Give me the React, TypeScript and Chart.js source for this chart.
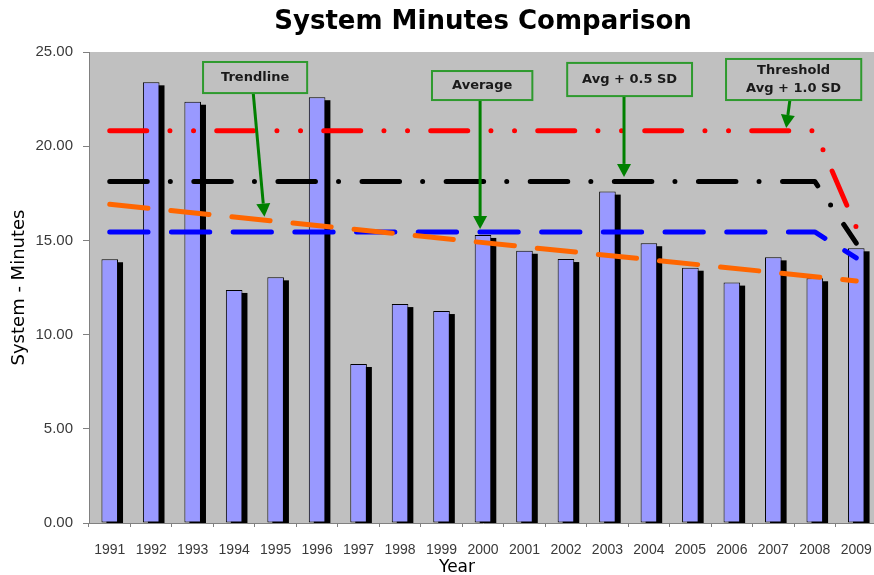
import React, { useEffect, useRef } from 'react';
import { Chart, registerables } from 'chart.js';

Chart.register(...registerables);

// ---------- data ----------
const years = ['1991', '1992', '1993', '1994', '1995', '1996', '1997', '1998', '1999', '2000',
  '2001', '2002', '2003', '2004', '2005', '2006', '2007', '2008', '2009'];

const systemMinutes = [14.0, 23.39, 22.36, 12.37, 13.04, 22.6, 8.44, 11.62, 11.25, 15.29,
  14.45, 14.01, 17.59, 14.85, 13.55, 12.76, 14.1, 12.99, 14.58];

const averageLine = [15.45, 15.45, 15.45, 15.45, 15.45, 15.45, 15.45, 15.45, 15.45, 15.45,
  15.45, 15.45, 15.45, 15.45, 15.45, 15.45, 15.45, 15.45, 14.07];

const avgHalfSdLine = [18.13, 18.13, 18.13, 18.13, 18.13, 18.13, 18.13, 18.13, 18.13, 18.13,
  18.13, 18.13, 18.13, 18.13, 18.13, 18.13, 18.13, 18.13, 14.85];

const thresholdLine = [20.82, 20.82, 20.82, 20.82, 20.82, 20.82, 20.82, 20.82, 20.82, 20.82,
  20.82, 20.82, 20.82, 20.82, 20.82, 20.82, 20.82, 20.82, 15.7];

// trendline: only its two end points are known, the line spans the gap
const trendLine = [16.92, null, null, null, null, null, null, null, null, null,
  null, null, null, null, null, null, null, null, 12.85];

const yTickValues = [0, 5, 10, 15, 20, 25];

// callouts: box extents in (category index, value) units, arrow from box to target
const callouts = [
  { lines: ['Trendline'], left: 2.25, right: 4.76, top: 24.47, bottom: 22.82, from: [3.46, 22.82], to: [3.73, 16.26] },
  { lines: ['Average'], left: 7.77, right: 10.19, top: 23.99, bottom: 22.45, from: [8.93, 22.45], to: [8.93, 15.6] },
  { lines: ['Avg + 0.5 SD'], left: 11.03, right: 14.04, top: 24.42, bottom: 22.66, from: [12.4, 22.66], to: [12.4, 18.37] },
  { lines: ['Threshold', 'Avg + 1.0 SD'], left: 14.86, right: 18.12, top: 24.63, bottom: 22.45, from: [16.4, 22.45], to: [16.31, 20.97] },
];

// ---------- plugins ----------
const plotBackground = {
  id: 'plotBackground',
  beforeDraw(chart: any) {
    const { ctx, chartArea: a, width, height } = chart;
    ctx.save();
    ctx.fillStyle = '#ffffff';
    ctx.fillRect(0, 0, width, height);
    ctx.fillStyle = '#c0c0c0';
    ctx.fillRect(a.left, a.top, a.right - a.left, a.bottom - a.top);
    ctx.restore();
  },
};

const barShadow = {
  id: 'barShadow',
  beforeDatasetDraw(chart: any, args: any) {
    const ds = chart.data.datasets[args.index];
    if (ds.type !== 'bar') return;
    const { ctx, chartArea: a } = chart;
    ctx.save();
    ctx.beginPath();
    ctx.rect(a.left, a.top, a.right - a.left, a.bottom - a.top);
    ctx.clip();
    ctx.fillStyle = '#000000';
    args.meta.data.forEach((bar: any) => {
      const { x, y, base, width } = bar.getProps(['x', 'y', 'base', 'width'], true);
      ctx.fillRect(x - width / 2 + 5, y + 3, width, base - y);
    });
    ctx.restore();
  },
};

const calloutPlugin = {
  id: 'callouts',
  afterDatasetsDraw(chart: any) {
    const { ctx } = chart;
    const xs = chart.scales.x;
    const ys = chart.scales.y;
    ctx.save();
    callouts.forEach((c) => {
      // arrow
      const x1 = xs.getPixelForValue(c.from[0]);
      const y1 = ys.getPixelForValue(c.from[1]);
      const x2 = xs.getPixelForValue(c.to[0]);
      const y2 = ys.getPixelForValue(c.to[1]);
      const ang = Math.atan2(y2 - y1, x2 - x1);
      const headLen = 13;
      const headHalf = 7;
      const bx = x2 - headLen * Math.cos(ang);
      const by = y2 - headLen * Math.sin(ang);
      ctx.strokeStyle = '#008000';
      ctx.lineWidth = 3;
      ctx.lineCap = 'butt';
      ctx.beginPath();
      ctx.moveTo(x1, y1);
      ctx.lineTo(bx, by);
      ctx.stroke();
      ctx.fillStyle = '#008000';
      ctx.beginPath();
      ctx.moveTo(x2, y2);
      ctx.lineTo(bx + headHalf * Math.sin(ang), by - headHalf * Math.cos(ang));
      ctx.lineTo(bx - headHalf * Math.sin(ang), by + headHalf * Math.cos(ang));
      ctx.closePath();
      ctx.fill();
      // box
      const l = xs.getPixelForValue(c.left);
      const r = xs.getPixelForValue(c.right);
      const t = ys.getPixelForValue(c.top);
      const b = ys.getPixelForValue(c.bottom);
      ctx.fillStyle = '#c0c0c0';
      ctx.fillRect(l, t, r - l, b - t);
      ctx.strokeStyle = '#2e9a2e';
      ctx.lineWidth = 2;
      ctx.strokeRect(l, t, r - l, b - t);
      ctx.fillStyle = '#1a1a1a';
      ctx.font = 'bold 13px "DejaVu Sans"';
      ctx.textAlign = 'center';
      ctx.textBaseline = 'middle';
      const cx = (l + r) / 2;
      const cy = (t + b) / 2;
      const lh = 17.6;
      c.lines.forEach((txt, i) => {
        ctx.fillText(txt, cx, cy + (i - (c.lines.length - 1) / 2) * lh);
      });
    });
    // x axis title
    const a = chart.chartArea;
    ctx.fillStyle = '#000000';
    ctx.font = '17px "DejaVu Sans"';
    ctx.textAlign = 'center';
    ctx.textBaseline = 'middle';
    ctx.fillText('Year', a.left + (a.right - a.left) * 0.467, 568);
    ctx.restore();
  },
};

export default function App() {
  const canvasRef = useRef<HTMLCanvasElement | null>(null);

  useEffect(() => {
    if (!canvasRef.current) return;
    const lineBase = {
      type: 'line' as const,
      borderWidth: 5,
      borderCapStyle: 'round' as const,
      borderJoinStyle: 'round' as const,
      pointRadius: 0,
      pointHoverRadius: 0,
      fill: false,
      tension: 0,
    };
    const chart = new Chart(canvasRef.current, {
      type: 'bar',
      data: {
        labels: years,
        datasets: [
          { ...lineBase, label: 'Trendline', data: trendLine, borderColor: '#ff6600', borderDash: [38.4, 23], spanGaps: true },
          { ...lineBase, label: 'Threshold Avg + 1.0 SD', data: thresholdLine, borderColor: '#ff0000', borderDash: [37, 23.2, 0, 23.6, 0, 23.2] },
          { ...lineBase, label: 'Avg + 0.5 SD', data: avgHalfSdLine, borderColor: '#000000', borderDash: [37.5, 23.1, 0, 23.5] },
          { ...lineBase, label: 'Average', data: averageLine, borderColor: '#0000ff', borderDash: [38.3, 23.4] },
          {
            type: 'bar' as const,
            label: 'System Minutes',
            data: systemMinutes,
            backgroundColor: '#9999ff',
            borderColor: '#000000',
            borderWidth: 1,
            borderSkipped: false,
            barPercentage: 0.4,
            categoryPercentage: 1,
            clip: 0,
          } as any,
        ],
      },
      options: {
        responsive: false,
        animation: false,
        devicePixelRatio: 1,
        layout: { padding: 0 },
        plugins: {
          legend: { display: false },
          tooltip: { enabled: false },
          title: {
            display: true,
            text: 'System Minutes Comparison',
            fullSize: false,
            color: '#000000',
            font: { family: '"DejaVu Sans"', size: 26, weight: 'bold', lineHeight: 1.2 },
            padding: { top: 6.4, bottom: 14.4 },
          },
        },
        scales: {
          x: {
            offset: true,
            afterFit: (s: any) => { s.height = 57; },
            grid: { drawOnChartArea: false, offset: true, tickLength: 4, color: '#808080' },
            border: { color: '#808080', width: 1 },
            ticks: {
              color: '#3a3a3a',
              font: { family: '"Liberation Sans"', size: 14, lineHeight: 3 },
              padding: 2,
              maxRotation: 0,
              autoSkip: false,
            },
          },
          y: {
            min: 0,
            max: 25,
            afterFit: (s: any) => { s.width = 89; },
            afterBuildTicks: (s: any) => { s.ticks = yTickValues.map((v) => ({ value: v })); },
            grid: { drawOnChartArea: false, tickLength: 6, color: '#808080' },
            border: { color: '#808080', width: 1 },
            ticks: {
              color: '#3a3a3a',
              font: { family: '"Liberation Sans"', size: 15 },
              padding: 10,
              callback: (v: any) => Number(v).toFixed(2),
            },
            title: {
              display: true,
              text: 'System - Minutes',
              color: '#000000',
              font: { family: '"DejaVu Sans"', size: 18 },
              padding: { top: 9, bottom: 0 },
            },
          },
        },
      } as any,
      plugins: [plotBackground, barShadow, calloutPlugin],
    });
    return () => chart.destroy();
  }, []);

  return (
    <div style={{ position: 'fixed', left: 0, top: 0, width: 874, height: 575, overflow: 'hidden', background: '#ffffff' }}>
      <canvas ref={canvasRef} width={877} height={580} style={{ display: 'block', width: 877, height: 580 }} />
    </div>
  );
}
